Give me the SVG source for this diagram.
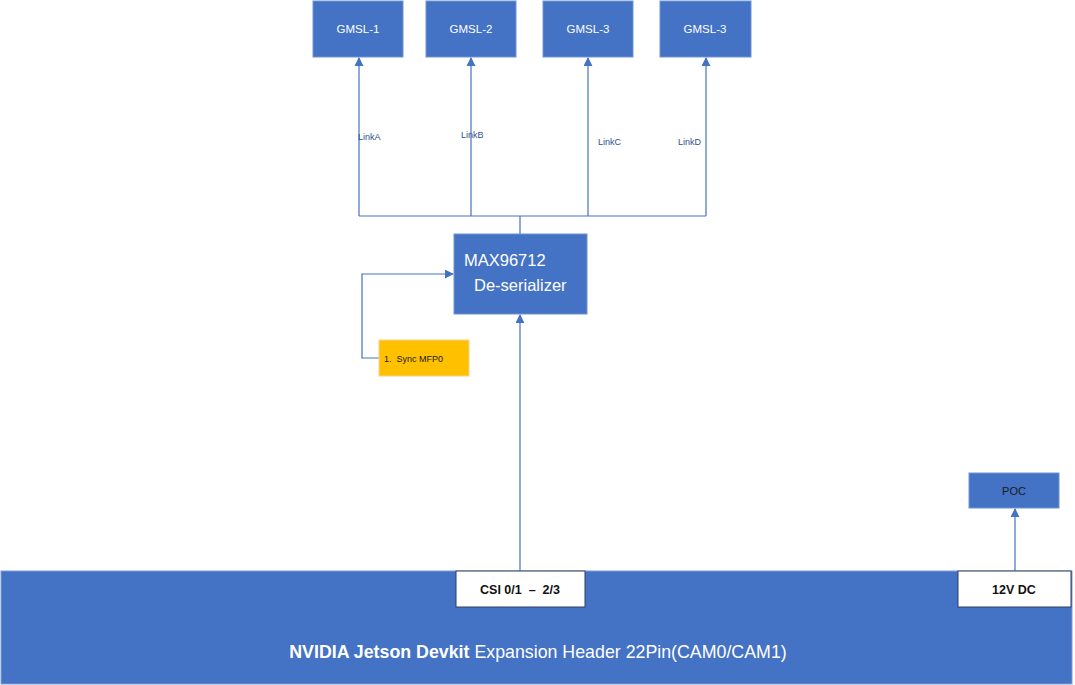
<svg xmlns="http://www.w3.org/2000/svg" width="1075" height="685" viewBox="0 0 1075 685">
<defs>
<style>
.box{fill:#4472C4;stroke:#6F93D3;stroke-width:1}
.wbox{fill:#FFFFFF;stroke:#2F3F5F;stroke-width:1}
.conn{fill:none;stroke:#4472C4;stroke-width:1.2}
.t{font-family:"Liberation Sans",Arial,sans-serif;fill:#FFFFFF}
.lbl{font-family:"Liberation Sans",Arial,sans-serif;font-size:9px;fill:#2F4F8F}
.b{font-weight:bold}
</style>
<marker id="arr" viewBox="0 0 10 10" refX="9" refY="5" markerWidth="9" markerHeight="9" orient="auto" markerUnits="userSpaceOnUse">
<path d="M0,0 L10,5 L0,10 z" fill="#4472C4"/>
</marker>
</defs>
<rect width="1075" height="685" fill="#FFFFFF"/>
<g id="connectors">
<path class="conn" d="M359,216 L359,58" marker-end="url(#arr)"/>
<path class="conn" d="M471,216 L471,58" marker-end="url(#arr)"/>
<path class="conn" d="M588,216 L588,58" marker-end="url(#arr)"/>
<path class="conn" d="M706,216 L706,58" marker-end="url(#arr)"/>
<path class="conn" d="M359,216 L706,216 M520,216 L520,234"/>
<path class="conn" d="M379,358 L362,358 L362,274 L453,274" marker-end="url(#arr)"/>
<path class="conn" d="M520,571 L520,315" marker-end="url(#arr)"/>
<path class="conn" d="M1015,571 L1015,509" marker-end="url(#arr)"/>
<text class="lbl" x="358" y="140">LinkA</text>
<text class="lbl" x="461" y="138">LinkB</text>
<text class="lbl" x="598" y="145">LinkC</text>
<text class="lbl" x="678" y="145">LinkD</text>
</g>
<g id="gmsl1"><rect class="box" x="313" y="1" width="90" height="56"/><text class="t" x="358" y="33" font-size="11.5" text-anchor="middle">GMSL-1</text></g>
<g id="gmsl2"><rect class="box" x="426" y="1" width="90" height="56"/><text class="t" x="471" y="33" font-size="11.5" text-anchor="middle">GMSL-2</text></g>
<g id="gmsl3"><rect class="box" x="543" y="1" width="90" height="56"/><text class="t" x="588" y="33" font-size="11.5" text-anchor="middle">GMSL-3</text></g>
<g id="gmsl4"><rect class="box" x="660" y="1" width="91" height="56"/><text class="t" x="705" y="33" font-size="11.5" text-anchor="middle">GMSL-3</text></g>
<g id="deserializer"><rect class="box" x="454" y="234" width="133" height="80"/>
<text class="t" x="464" y="266" font-size="16.5">MAX96712</text>
<text class="t" x="474" y="291" font-size="16.5">De-serializer</text></g>
<g id="sync"><rect x="379" y="340" width="90" height="36" fill="#FFC000" stroke="#F2D38A" stroke-width="1"/>
<text x="384" y="362" font-family="'Liberation Sans',Arial,sans-serif" font-size="9" fill="#1A1A1A" xml:space="preserve">1.  Sync MFP0</text></g>
<g id="poc"><rect class="box" x="969" y="473" width="90" height="35"/><text x="1014" y="495" font-family="'Liberation Sans',Arial,sans-serif" font-size="11" fill="#1A1A1A" text-anchor="middle">POC</text></g>
<g id="header"><rect x="1" y="571" width="1071" height="113" fill="#4472C4" stroke="#7C9CD6" stroke-width="1"/>
<text class="t" x="538" y="658" font-size="17.8" text-anchor="middle"><tspan class="b">NVIDIA Jetson Devkit</tspan> Expansion Header 22Pin(CAM0/CAM1)</text></g>
<g id="csi"><rect class="wbox" x="456" y="571" width="129" height="36"/><text x="520" y="594" font-family="'Liberation Sans',Arial,sans-serif" font-size="12.5" font-weight="bold" fill="#111111" text-anchor="middle" xml:space="preserve">CSI 0/1  –  2/3</text></g>
<g id="dc12"><rect class="wbox" x="958" y="571" width="113" height="36"/><text x="1014" y="594" font-family="'Liberation Sans',Arial,sans-serif" font-size="12.5" font-weight="bold" fill="#111111" text-anchor="middle">12V DC</text></g>
</svg>
